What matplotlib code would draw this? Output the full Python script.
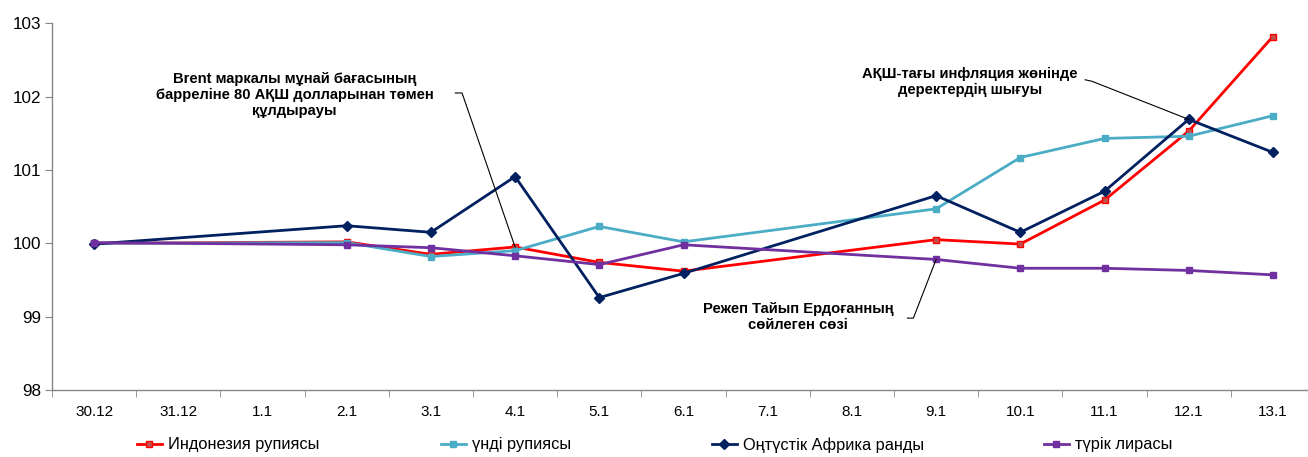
import numpy as np
import matplotlib
matplotlib.use("Agg")
import matplotlib.pyplot as plt
from matplotlib.lines import Line2D

plt.rcParams['font.family'] = ['Liberation Sans', 'DejaVu Sans']

categories = ["30.12", "31.12", "1.1", "2.1", "3.1", "4.1", "5.1", "6.1",
              "7.1", "8.1", "9.1", "10.1", "11.1", "12.1", "13.1"]
nan = np.nan
idr = [100.00, nan, nan, 100.02, 99.85, 99.95, 99.74, 99.62, nan, nan, 100.05, 99.99, 100.59, 101.53, 102.82]
inr = [100.00, nan, nan, 100.01, 99.82, 99.90, 100.23, 100.02, nan, nan, 100.47, 101.17, 101.43, 101.46, 101.74]
zar = [99.99, nan, nan, 100.24, 100.15, 100.91, 99.26, 99.59, nan, nan, 100.65, 100.15, 100.71, 101.69, 101.24]
tryl = [100.01, nan, nan, 99.98, 99.94, 99.83, 99.71, 99.98, nan, nan, 99.78, 99.66, 99.66, 99.63, 99.57]

names = ["Индонезия рупиясы", "үнді рупиясы", "Оңтүстік Африка ранды", "түрік лирасы"]
yticks = [98, 99, 100, 101, 102, 103]

W, H = 1308, 457
fig = plt.figure(figsize=(W / 100, H / 100), dpi=100)
ax = fig.add_axes([52 / W, (H - 390) / H, (1315 - 52) / W, (390 - 23.3) / H])

x = np.arange(len(categories))
series = [
    (idr, '#FF0000', 's', '#C0504D', 5),
    (inr, '#4BACC6', 's', '#4BACC6', 5),
    (zar, '#002060', 'D', '#002060', 5),
    (tryl, '#7030A0', 's', '#7030A0', 5),
]
handles = []
for (vals, col, mk, mfc, ms), nm in zip(series, names):
    v = np.array(vals, dtype=float)
    m = ~np.isnan(v)
    ax.plot(x[m], v[m], color=col, lw=2.0, marker=mk, markersize=ms,
            markerfacecolor=mfc, markeredgecolor=col, zorder=3)
    handles.append(Line2D([], [], color=col, lw=2.0, marker=mk, markersize=ms,
                          markerfacecolor=mfc, markeredgecolor=col, label=nm))

ax.set_xlim(-0.5, len(categories) - 0.5)
ax.set_ylim(98, 103)
ax.set_yticks(yticks)
ax.set_yticklabels([str(t) for t in yticks], fontsize=12.3)
ax.set_xticks(x)
ax.set_xticklabels(categories, fontsize=11)
ax.set_xticks(np.arange(-0.5, len(categories), 1), minor=True)
ax.tick_params(axis='x', which='major', length=0, pad=11)
ax.tick_params(axis='x', which='minor', length=5, color='#868686', direction='out')
ax.tick_params(axis='y', length=5, color='#868686', direction='out', pad=3)
for s in ['top', 'right']:
    ax.spines[s].set_visible(False)
for s in ['left', 'bottom']:
    ax.spines[s].set_color('#868686')
    ax.spines[s].set_linewidth(1.0)

# annotations
def leader(p0, p1, p2):
    ax.plot([p0[0], p1[0], p2[0]], [p0[1], p1[1], p2[1]], color='black', lw=0.8,
            zorder=4, clip_on=False)

afs = 10.6
ax.text(2.38, 102.02, "Brent маркалы мұнай бағасының\nбарреліне 80 АҚШ долларынан төмен\nқұлдырауы",
        ha='center', va='center', fontsize=afs, fontweight='bold', linespacing=1.2)
leader((4.29, 102.05), (4.37, 102.05), (5, idr[5]))

ax.text(10.40, 102.20, "АҚШ-тағы инфляция жөнінде\nдеректердің шығуы",
        ha='center', va='center', fontsize=afs, fontweight='bold', linespacing=1.2)
leader((11.77, 102.23), (11.85, 102.21), (13, zar[13]))

ax.text(8.36, 98.99, "Режеп Тайып Ердоғанның\nсөйлеген сөзі",
        ha='center', va='center', fontsize=afs, fontweight='bold', linespacing=1.2)
leader((9.66, 98.98), (9.73, 98.98), (10, tryl[10]))

# legend entries placed individually (handle left edge in pixels)
leg_x = [137, 441, 712, 1044]
for h, lx in zip(handles, leg_x):
    lg = fig.legend(handles=[h], loc='center left', bbox_to_anchor=(lx / W, 1 - 445 / H),
                    frameon=False, fontsize=11.8, handlelength=1.5, handletextpad=0.4,
                    borderpad=0, borderaxespad=0)

fig.savefig("out.png", dpi=100)
